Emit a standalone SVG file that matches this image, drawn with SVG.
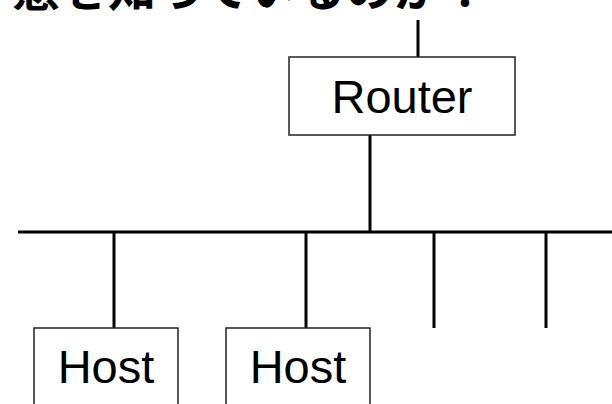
<svg xmlns="http://www.w3.org/2000/svg" width="612" height="404" viewBox="0 0 612 404">
<style>
.box{fill:#fff;stroke:#222;stroke-width:1.5}
.lbl{font-family:"Liberation Sans",Arial,sans-serif;font-size:47px;fill:#000;text-anchor:middle}
.ttl{font-family:"Liberation Sans","Noto Sans CJK JP",sans-serif;font-size:48px;font-weight:bold;fill:#000}
.conn line{stroke:#000;stroke-width:3}
</style>
<rect width="612" height="404" fill="#fff"/>
<text class="ttl" x="12" y="6">態を知っているのか？</text>
<g id="connectors" class="conn">
<line x1="418" y1="20" x2="418" y2="57"/>
<line x1="370" y1="135" x2="370" y2="232"/>
<line x1="18" y1="232" x2="612" y2="232"/>
<line x1="114" y1="232" x2="114" y2="328"/>
<line x1="306" y1="232" x2="306" y2="328"/>
<line x1="434" y1="232" x2="434" y2="328"/>
<line x1="546" y1="232" x2="546" y2="328"/>
</g>
<g id="router">
<rect class="box" x="289" y="57" width="226" height="78"/>
<text class="lbl" x="402" y="113">Router</text>
</g>
<g id="host1">
<rect class="box" x="34" y="328" width="144" height="90"/>
<text class="lbl" x="106" y="383">Host</text>
</g>
<g id="host2">
<rect class="box" x="226" y="328" width="144" height="90"/>
<text class="lbl" x="298" y="383">Host</text>
</g>
</svg>
